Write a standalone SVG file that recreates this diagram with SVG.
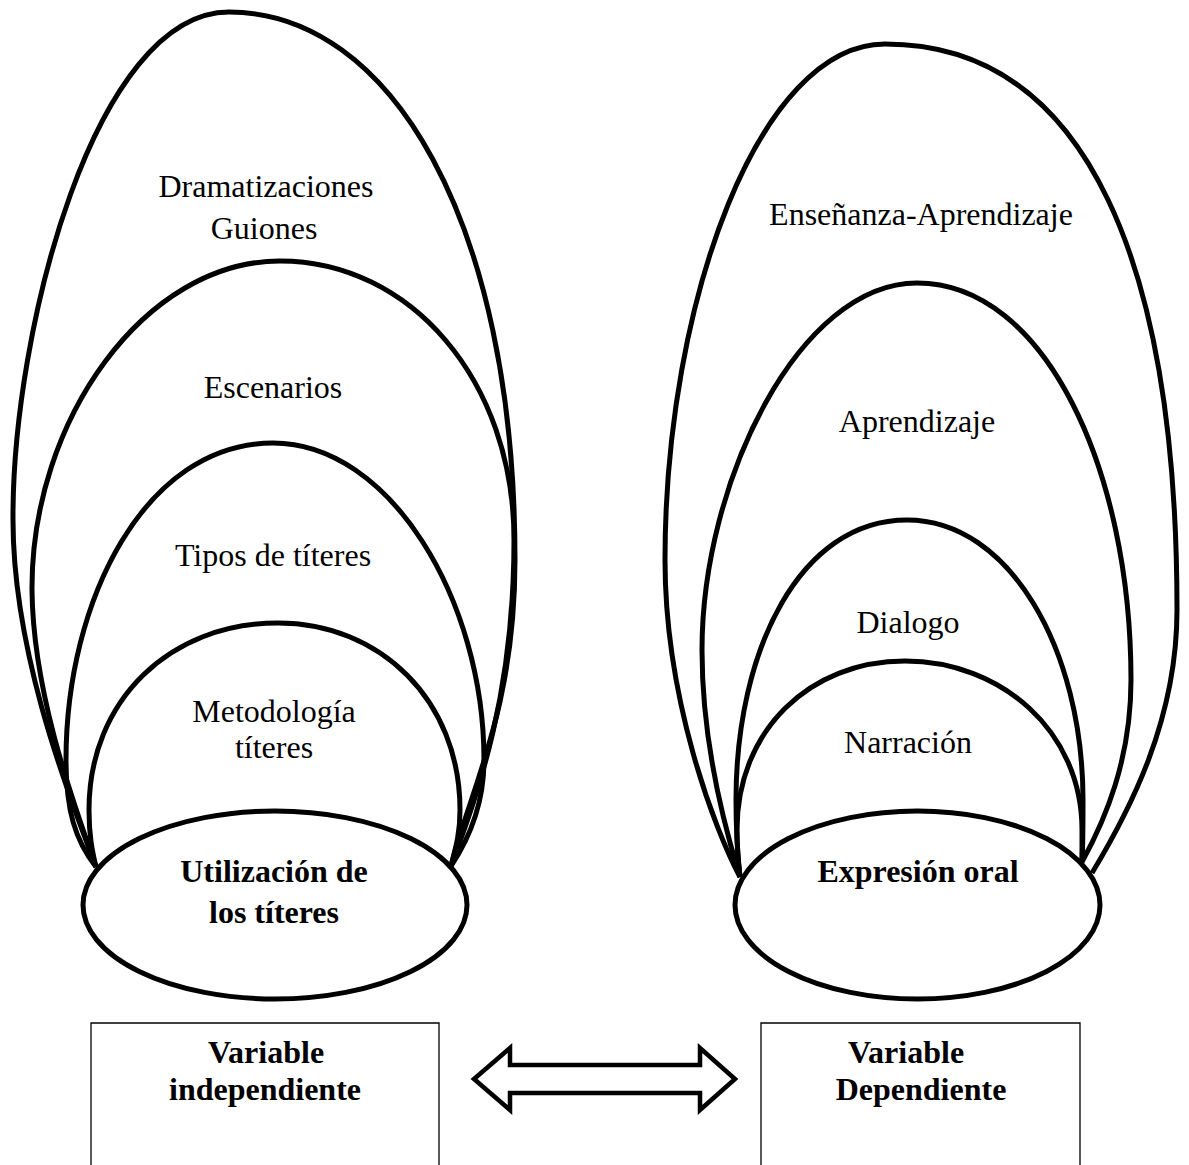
<svg xmlns="http://www.w3.org/2000/svg" width="1189" height="1165" viewBox="0 0 1189 1165">
<style>
.arc{fill:none;stroke:#000;stroke-width:5;stroke-linejoin:round}
.base{fill:#fff;stroke:#000;stroke-width:5}
.t{font-family:"Liberation Serif","Times New Roman",serif;font-size:32px;fill:#000;text-anchor:middle}
.b{font-weight:bold}
.box{fill:#fff;stroke:#000;stroke-width:1.3}
</style>
<rect width="1189" height="1165" fill="#fff"/>
<g id="left-group">
  <g id="arc-dramatizaciones">
    <path class="arc" d="M96 867 C75 810 13 660 13 520 C12 330 95 12 229 12 C390 12 515 220 515 560 C515 710 470 790 451 866"/>
    <text class="t" x="266" y="197">Dramatizaciones</text>
    <text class="t" x="264" y="239">Guiones</text>
  </g>
  <g id="arc-escenarios">
    <path class="arc" d="M96 867 C80 820 33 700 32 590 C31 420 145 261 280 261 C410 261 514 380 514 540 C514 700 475 800 451 866"/>
    <text class="t" x="273" y="398">Escenarios</text>
  </g>
  <g id="arc-tipos">
    <path class="arc" d="M96 867 C75 840 66 810 66 760 C66 600 145 443 273 443 C390 443 484 600 484 760 C484 810 465 845 451 866"/>
    <text class="t" x="273" y="566">Tipos de títeres</text>
  </g>
  <g id="arc-metodologia">
    <path class="arc" d="M96 867 C92 850 89 835 89 810 C89 700 170 623 278 623 C380 623 460 700 460 810 C460 835 455 850 451 866"/>
    <text class="t" x="274" y="722">Metodología</text>
    <text class="t" x="274" y="758">títeres</text>
  </g>
  <g id="node-utilizacion">
    <ellipse class="base" cx="275" cy="905" rx="192" ry="94"/>
    <text class="t b" x="274" y="882">Utilización de</text>
    <text class="t b" x="274" y="923">los títeres</text>
  </g>
</g>
<g id="right-group">
  <g id="arc-ensenanza">
    <path class="arc" d="M740 877 C715 830 665 700 665 560 C665 300 760 44 885 44 C1090 44 1177 270 1177 610 C1177 720 1130 810 1092 873"/>
    <text class="t" x="921" y="225">Enseñanza-Aprendizaje</text>
  </g>
  <g id="arc-aprendizaje">
    <path class="arc" d="M740 877 C735 860 702 760 702 650 C702 480 800 283 917 283 C1045 283 1131 470 1131 680 C1131 760 1105 820 1082 862"/>
    <text class="t" x="917" y="432">Aprendizaje</text>
  </g>
  <g id="arc-dialogo">
    <path class="arc" d="M740 877 C737 850 736 830 736 800 C736 650 800 520 907 520 C1010 520 1083 650 1083 800 C1083 830 1083 845 1082 862"/>
    <text class="t" x="908" y="633">Dialogo</text>
  </g>
  <g id="arc-narracion">
    <path class="arc" d="M740 877 C738 860 737 845 737 830 C737 730 810 661 905 661 C1000 661 1082 730 1082 830 C1082 845 1082 855 1082 862"/>
    <text class="t" x="908" y="753">Narración</text>
  </g>
  <g id="node-expresion">
    <ellipse class="base" cx="917.5" cy="905" rx="182.5" ry="94"/>
    <text class="t b" x="918" y="882">Expresión oral</text>
  </g>
</g>
<g id="node-var-independiente">
  <path class="box" d="M91 1170 V1023 H439 V1170"/>
  <text class="t b" x="266" y="1063">Variable</text>
  <text class="t b" x="265" y="1100">independiente</text>
</g>
<g id="node-var-dependiente">
  <path class="box" d="M761 1170 V1023 H1080 V1170"/>
  <text class="t b" x="906" y="1063">Variable</text>
  <text class="t b" x="921" y="1100">Dependiente</text>
</g>
<g id="connectors">
  <polygon points="474,1079 510,1048 510,1065 700,1065 700,1048 735,1079 700,1110 700,1093 510,1093 510,1110" fill="#fff" stroke="#000" stroke-width="4.5" stroke-linejoin="miter"/>
</g>
</svg>
